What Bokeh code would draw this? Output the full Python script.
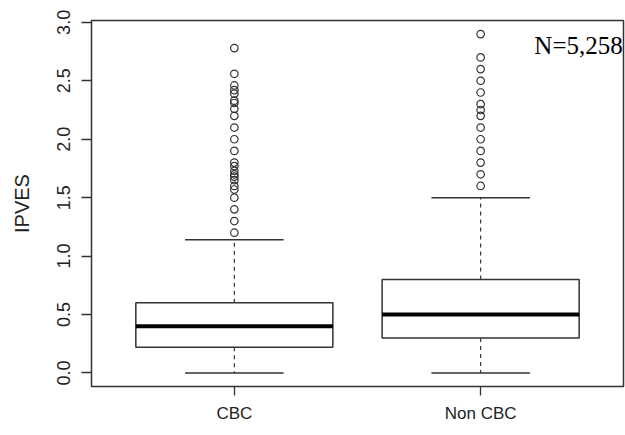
from bokeh.plotting import figure
from bokeh.models import Range1d, FixedTicker, PrintfTickFormatter, Label
from bokeh.embed import file_html
from bokeh.resources import INLINE

# Box plot summary statistics per group
categories = ["CBC", "Non CBC"]
lower_whisker = [0.0, 0.0]
q1 = [0.22, 0.30]
median = [0.40, 0.50]
q3 = [0.60, 0.80]
upper_whisker = [1.14, 1.50]

# Points beyond the upper whisker
cbc_outliers = [1.20, 1.30, 1.40, 1.50, 1.57, 1.60, 1.65, 1.68, 1.70, 1.73, 1.77,
                1.80, 1.90, 2.00, 2.10, 2.20, 2.26, 2.31, 2.33, 2.39, 2.42, 2.46,
                2.56, 2.78]
noncbc_outliers = [1.60, 1.70, 1.80, 1.90, 2.00, 2.10, 2.20, 2.25, 2.30, 2.40,
                   2.50, 2.60, 2.70, 2.90]

y_ticks = [0.0, 0.5, 1.0, 1.5, 2.0, 2.5, 3.0]
sample_note = "N=5,258"

positions = [i + 1 for i in range(len(categories))]
box_half = 0.4
cap_half = 0.2
line_col = "#333333"
text_col = "#222222"

p = figure(width=625, height=435, output_backend="svg", toolbar_location=None,
           x_range=Range1d(0.42, 2.58), y_range=Range1d(-0.116, 3.016),
           min_border_left=91, min_border_right=2, min_border_top=20,
           min_border_bottom=49)
p.background_fill_color = "white"
p.border_fill_color = "white"
p.xgrid.visible = False
p.ygrid.visible = False
p.outline_line_color = line_col
p.outline_line_width = 1.5

# Dashed whiskers
p.segment(x0=positions, y0=q3, x1=positions, y1=upper_whisker,
          line_color=line_col, line_width=1.2, line_dash="4 4")
p.segment(x0=positions, y0=q1, x1=positions, y1=lower_whisker,
          line_color=line_col, line_width=1.2, line_dash="4 4")

# Whisker caps
p.segment(x0=[x - cap_half for x in positions], y0=upper_whisker,
          x1=[x + cap_half for x in positions], y1=upper_whisker,
          line_color=line_col, line_width=1.5)
p.segment(x0=[x - cap_half for x in positions], y0=lower_whisker,
          x1=[x + cap_half for x in positions], y1=lower_whisker,
          line_color=line_col, line_width=1.5)

# Boxes
p.quad(left=[x - box_half for x in positions], right=[x + box_half for x in positions],
       bottom=q1, top=q3, fill_color="white", line_color=line_col, line_width=1.5)

# Medians
p.segment(x0=[x - box_half for x in positions], y0=median,
          x1=[x + box_half for x in positions], y1=median,
          line_color="black", line_width=4)

# Outliers
p.scatter(x=[positions[0]] * len(cbc_outliers), y=cbc_outliers, marker="circle",
          size=7.5, fill_color=None, line_color=line_col, line_width=1.2)
p.scatter(x=[positions[1]] * len(noncbc_outliers), y=noncbc_outliers, marker="circle",
          size=7.5, fill_color=None, line_color=line_col, line_width=1.2)

# Axes
p.xaxis.ticker = FixedTicker(ticks=positions)
p.xaxis.major_label_overrides = {pos: name for pos, name in zip(positions, categories)}
p.xaxis.axis_line_color = None
p.xaxis.major_tick_in = 0
p.xaxis.major_tick_out = 9
p.xaxis.major_tick_line_color = line_col
p.xaxis.major_tick_line_width = 1.3
p.xaxis.minor_tick_line_color = None
p.xaxis.major_label_standoff = 8
p.xaxis.major_label_text_font = "Liberation Sans"
p.xaxis.major_label_text_font_size = "17px"
p.xaxis.major_label_text_color = text_col

p.yaxis.ticker = FixedTicker(ticks=y_ticks)
p.yaxis.formatter = PrintfTickFormatter(format="%.1f")
p.yaxis.axis_line_color = None
p.yaxis.major_tick_in = 0
p.yaxis.major_tick_out = 10
p.yaxis.major_tick_line_color = line_col
p.yaxis.major_tick_line_width = 1.3
p.yaxis.minor_tick_line_color = None
p.yaxis.major_label_orientation = "vertical"
p.yaxis.major_label_standoff = 11
p.yaxis.major_label_text_font = "Liberation Sans"
p.yaxis.major_label_text_font_size = "18px"
p.yaxis.major_label_text_color = text_col
p.yaxis.axis_label = "IPVES"
p.yaxis.axis_label_standoff = 22
p.yaxis.axis_label_text_font = "Liberation Sans"
p.yaxis.axis_label_text_font_size = "20px"
p.yaxis.axis_label_text_font_style = "normal"
p.yaxis.axis_label_text_color = text_col

p.add_layout(Label(x=2.577, y=2.80, text=sample_note, text_align="right",
                   text_baseline="alphabetic", text_font="Liberation Serif",
                   text_font_size="25px", text_color="black"))

open("out.html", "w").write(file_html(p, INLINE))
